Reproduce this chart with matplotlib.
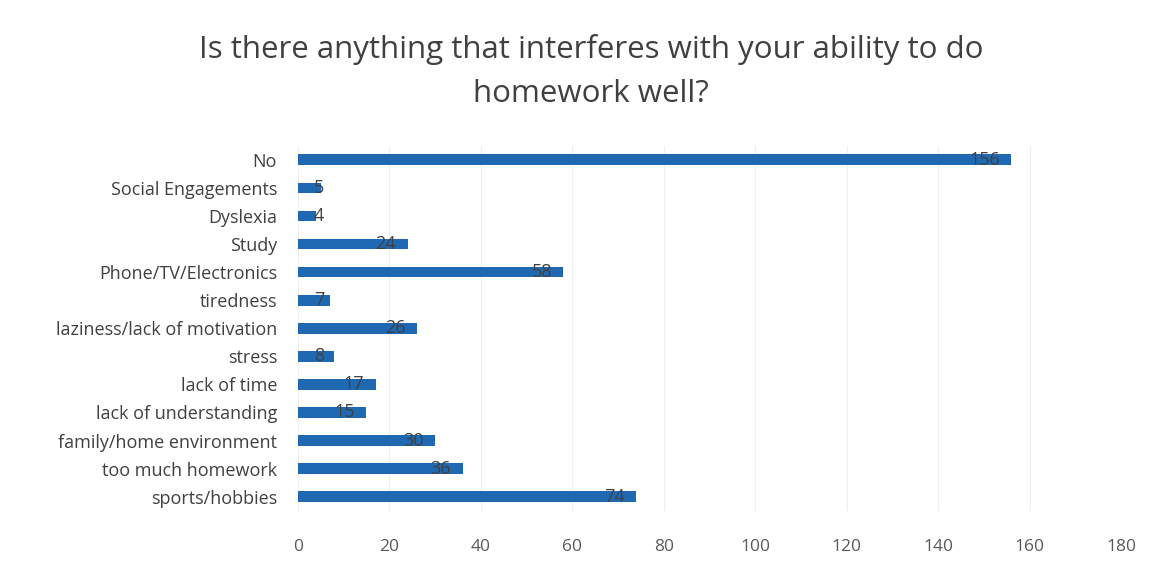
import numpy as np
import matplotlib.pyplot as plt

categories = ["No", "Social Engagements", "Dyslexia", "Study", "Phone/TV/Electronics",
              "tiredness", "laziness/lack of motivation", "stress", "lack of time",
              "lack of understanding", "family/home environment", "too much homework",
              "sports/hobbies"]
counts = [156, 5, 4, 24, 58, 7, 26, 8, 17, 15, 30, 36, 74]
xticks = [0, 20, 40, 60, 80, 100, 120, 140, 160, 180]

plt.rcParams['font.family'] = ['Open Sans', 'DejaVu Sans']

fig = plt.figure(figsize=(11.68, 5.65), dpi=100)
ax = fig.add_axes([0.255, 0.096, 0.705, 0.646])

y = np.arange(len(categories))
ax.barh(y, counts, height=0.38, color="#1f69b3", zorder=2)

for yi, v in zip(y, counts):
    ax.text(max(v - 2.5, 5.8), yi, str(v), ha='right', va='center',
            fontsize=13, color="#404040", zorder=3)

ax.set_ylim(len(categories) - 0.5, -0.5)
ax.set_xlim(0, 180)
ax.set_yticks(y)
ax.set_yticklabels(categories, fontsize=13, color="#404040")
ax.set_xticks(xticks)
ax.set_xticklabels([str(t) for t in xticks], fontsize=12.5, color="#595959")
ax.tick_params(length=0)
ax.tick_params(axis='y', pad=15)
ax.tick_params(axis='x', pad=20)
ax.grid(axis='x', color="#eeeeee", linewidth=0.8, zorder=0)
for s in ax.spines.values():
    s.set_visible(False)

fig.suptitle("Is there anything that interferes with your ability to do\nhomework well?",
             x=0.506, y=0.94, fontsize=22.5, color="#404040", linespacing=1.6)

fig.savefig("out.png", dpi=100)
